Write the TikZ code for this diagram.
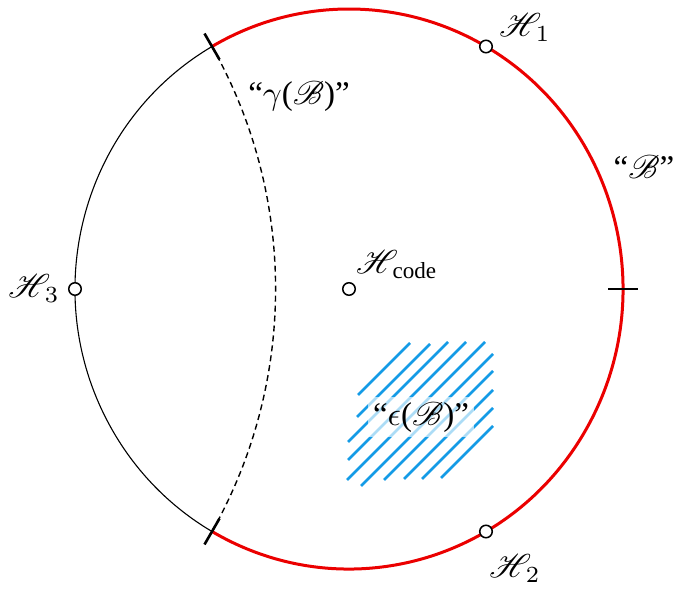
\documentclass[tikz,border=0pt]{standalone}
\usepackage{fontspec}
\setmainfont{Liberation Serif}
\usepackage{mathrsfs}
\usetikzlibrary{calc}
\definecolor{bred}{RGB}{235,0,0}
\definecolor{hblue}{RGB}{20,155,230}
\begin{document}
\begin{tikzpicture}[x=1pt,y=1pt,
  bigtext/.style={font=\fontsize{10}{12}\selectfont, inner sep=0pt, scale=3.3, transform shape},
  dot/.style={circle, draw, line width=1.5pt, fill=white, minimum size=12.5pt, inner sep=0pt},
  redarc/.style={draw=bred, line width=3pt},
  thinarc/.style={draw=black, line width=1.1pt},
  geod/.style={draw=black, line width=1.4pt, dash pattern=on 6pt off 4pt},
  tickmark/.style={draw=black, line width=2.6pt},
  hatch/.style={draw=hblue, line width=2.5pt}]
\path[use as bounding box] (0,0) rectangle (676,590);
\coordinate (C) at (349,301);
\coordinate (A) at ($(C)+(120:274pt and 280pt)$);
\coordinate (B) at ($(C)+(240:274pt and 280pt)$);
\coordinate (R) at ($(C)+(274,0)$);
% boundary
\draw[thinarc] (A) arc[start angle=120, end angle=240, x radius=274pt, y radius=280pt];
\draw[redarc] (B) arc[start angle=-120, end angle=120, x radius=274pt, y radius=280pt];
% geodesic
\draw[geod] (A) arc[start angle=30, end angle=-30, x radius=474.58pt, y radius=484.97pt];
% ticks
\draw[tickmark] ($(A)+(120:15pt)$) -- ($(A)+(300:15pt)$);
\draw[tickmark] ($(B)+(240:15pt)$) -- ($(B)+(60:15pt)$);
\draw[tickmark] ($(R)+(-15,0)$) -- ($(R)+(15,0)$);
% hatch
\foreach \s/\a/\b in {753/358/410, 774/357/430, 790/348/448, 808/348/466, 827/347/485,
                      847/361/493, 864/384/493, 883/404/493, 901/422/493, 919/441/493}
  \draw[hatch] (\a,{590-\s+\a}) -- (\b,{590-\s+\b});
\node[bigtext, fill=white, fill opacity=0.65, text opacity=1, inner sep=1.5pt] (le) at (421,173) {“$\epsilon$($\mathscr{B}$)”};
% points
\node[dot] (h1) at ($(C)+(60:274pt and 280pt)$) {};
\node[dot] (h2) at ($(C)+(-60:274pt and 280pt)$) {};
\node[dot] (h3) at ($(C)+(180:274pt and 280pt)$) {};
\node[dot] (hc) at (C) {};
% labels
\node[bigtext] (l1) at (525,563) {$\mathscr{H}_{\,1}$};
\node[bigtext] (l2) at (515,22) {$\mathscr{H}_{\,2}$};
\node[bigtext] (l3) at (34,302) {$\mathscr{H}_{\,3}$};
\node[bigtext] (lc) at (397,325) {$\mathscr{H}_{\,\mathrm{code}}$};
\node[bigtext] (lg) at (299,494) {“$\gamma$($\mathscr{B}$)”};
\node[bigtext] (lb) at (644,423) {“$\mathscr{B}$”};
\end{tikzpicture}
\end{document}
